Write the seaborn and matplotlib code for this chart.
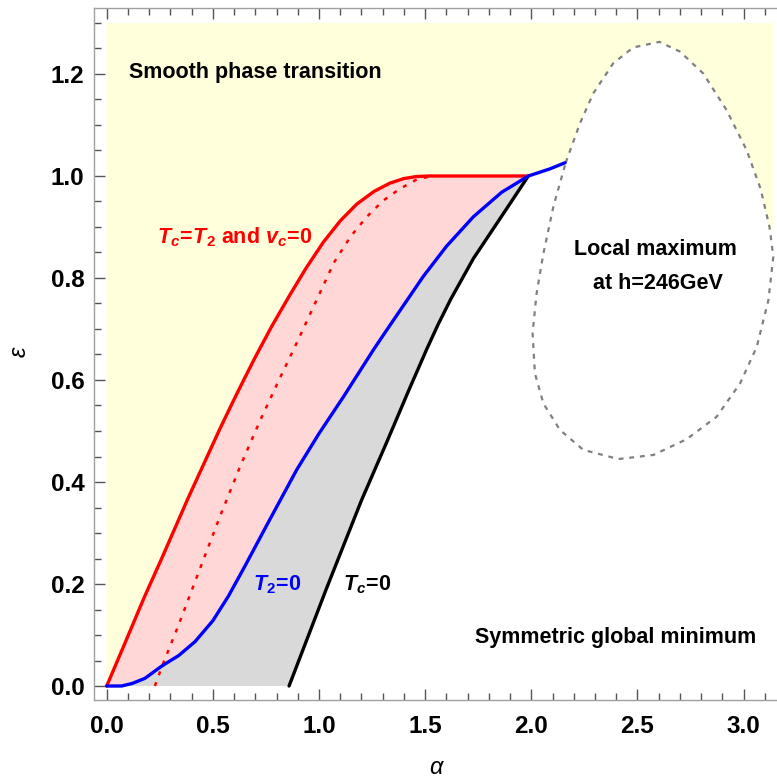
import numpy as np
import matplotlib
matplotlib.use("Agg")
import matplotlib.pyplot as plt
import seaborn as sns
from matplotlib.ticker import MultipleLocator

# ---- data ----
# red solid curve: T_c = T_2 and v_c = 0 (then flat at eps = 1)
red_alpha = [0.0, 0.090, 0.177, 0.259, 0.383, 0.534, 0.600, 0.643, 0.700, 0.777, 0.863, 0.940,
             1.020, 1.100, 1.178, 1.260, 1.334, 1.400, 1.460, 1.523, 1.986]
red_eps   = [0.0, 0.088, 0.174, 0.250, 0.368, 0.505, 0.562, 0.598, 0.645, 0.705, 0.767, 0.820,
             0.870, 0.912, 0.945, 0.970, 0.986, 0.995, 0.999, 1.000, 1.000]

# red dotted curve
dot_alpha = [0.227, 0.259, 0.337, 0.444, 0.534, 0.630, 0.722, 0.816, 0.900, 0.990, 1.070,
             1.150, 1.225, 1.300, 1.381, 1.460, 1.531]
dot_eps   = [0.000, 0.037, 0.118, 0.235, 0.333, 0.432, 0.520, 0.604, 0.677, 0.758, 0.830,
             0.882, 0.920, 0.951, 0.975, 0.993, 1.000]

# blue curve: T_2 = 0
blue_alpha = [0.0, 0.070, 0.120, 0.180, 0.259, 0.340, 0.416, 0.500, 0.573, 0.651, 0.760, 0.895,
              1.000, 1.115, 1.256, 1.319, 1.491, 1.600, 1.727, 1.860, 1.986, 2.088, 2.159]
blue_eps   = [0.0, 0.000, 0.005, 0.015, 0.039, 0.060, 0.087, 0.128, 0.176, 0.235, 0.320, 0.424,
              0.495, 0.567, 0.659, 0.698, 0.803, 0.862, 0.920, 0.968, 1.000, 1.014, 1.026]

# black curve: T_c = 0
black_alpha = [0.859, 1.036, 1.200, 1.319, 1.420, 1.507, 1.560, 1.620, 1.727, 1.884, 1.986]
black_eps   = [0.000, 0.192, 0.364, 0.478, 0.577, 0.660, 0.708, 0.758, 0.838, 0.936, 1.000]

# dashed closed curve: local maximum at h = 246 GeV (starts at blue end, clockwise)
ell_alpha = [2.162, 2.229, 2.292, 2.386, 2.480, 2.603, 2.700, 2.810, 2.920, 3.014, 3.080, 3.122,
             3.140, 3.117, 3.062, 2.983, 2.873, 2.732, 2.575, 2.410, 2.245, 2.135, 2.057, 2.017,
             2.006, 2.025, 2.057, 2.104, 2.162]
ell_eps   = [1.026, 1.103, 1.162, 1.221, 1.252, 1.263, 1.244, 1.201, 1.129, 1.051, 0.975, 0.900,
             0.842, 0.757, 0.665, 0.593, 0.528, 0.484, 0.453, 0.445, 0.463, 0.502, 0.554, 0.613,
             0.692, 0.770, 0.848, 0.940, 1.026]
ell_cut = 11  # index where the closed curve meets the right edge of the yellow region

alpha_max, eps_max = np.pi, 1.3

xticks = [0.0, 0.5, 1.0, 1.5, 2.0, 2.5, 3.0]
xtick_labels = ["0.0", "0.5", "1.0", "1.5", "2.0", "2.5", "3.0"]
yticks = [0.0, 0.2, 0.4, 0.6, 0.8, 1.0, 1.2]
ytick_labels = ["0.0", "0.2", "0.4", "0.6", "0.8", "1.0", "1.2"]

# ---- style ----
sns.set_theme(style="white")
plt.rcParams['font.family'] = ['Liberation Sans', 'DejaVu Sans']
plt.rcParams['mathtext.fontset'] = 'custom'
plt.rcParams['mathtext.rm'] = 'Liberation Sans:bold'
plt.rcParams['mathtext.it'] = 'Liberation Sans:italic:bold'
plt.rcParams['mathtext.bf'] = 'Liberation Sans:bold'

W, H = 777, 779
fig = plt.figure(figsize=(W / 100, H / 100), dpi=100)
ax = fig.add_axes([94 / W, 79 / H, 683 / W, 692 / H])

YELLOW = "#FFFFDC"
PINK = "#FFD7D7"
GRAY = "#D9D9D9"

# yellow region: above red / flat / blue, outside the dashed curve
blue_tail = [i for i, a in enumerate(blue_alpha) if a > red_alpha[-1]]
yx = list(red_alpha) + [blue_alpha[i] for i in blue_tail] + ell_alpha[:ell_cut + 1] + \
     [alpha_max, alpha_max, 0.0]
yy = list(red_eps) + [blue_eps[i] for i in blue_tail] + ell_eps[:ell_cut + 1] + \
     [ell_eps[ell_cut] - 0.01, eps_max, eps_max]
ax.fill(yx, yy, color=YELLOW, lw=0, zorder=1)

# pink region between red and blue
blue_main = [i for i, a in enumerate(blue_alpha) if a <= red_alpha[-1]]
px_ = list(red_alpha) + [blue_alpha[i] for i in blue_main[::-1]]
py_ = list(red_eps) + [blue_eps[i] for i in blue_main[::-1]]
ax.fill(px_, py_, color=PINK, lw=0, zorder=2)

# gray region between blue and black
gx = [blue_alpha[i] for i in blue_main] + black_alpha[::-1]
gy = [blue_eps[i] for i in blue_main] + black_eps[::-1]
ax.fill(gx, gy, color=GRAY, lw=0, zorder=2)

# curves
sns.lineplot(x=ell_alpha, y=ell_eps, sort=False, estimator=None, ax=ax, color="#808080",
             lw=1.6, linestyle=(0, (2.2, 2.6)), zorder=3)
sns.lineplot(x=dot_alpha, y=dot_eps, sort=False, estimator=None, ax=ax, color="red",
             lw=1.8, linestyle=(0, (1.6, 3.0)), zorder=4)
sns.lineplot(x=black_alpha, y=black_eps, sort=False, estimator=None, ax=ax, color="black",
             lw=2.4, zorder=5)
sns.lineplot(x=red_alpha, y=red_eps, sort=False, estimator=None, ax=ax, color="red",
             lw=2.4, zorder=6)
sns.lineplot(x=blue_alpha, y=blue_eps, sort=False, estimator=None, ax=ax, color="blue",
             lw=2.4, zorder=7)

# annotations
fs = 15.5
ax.text(0.701, 1.202, "Smooth phase transition", ha="center", va="center",
        fontsize=fs, fontweight="bold", color="black", zorder=8)
ax.text(0.604, 0.880, r"$T_c\!=\!T_2$ and $v_c\!=\!0$", ha="center", va="center",
        fontsize=fs, fontweight="bold", color="red", zorder=8)
ax.text(0.805, 0.198, r"$T_2\!=\!0$", ha="center", va="center",
        fontsize=fs, fontweight="bold", color="blue", zorder=8)
ax.text(1.229, 0.198, r"$T_c\!=\!0$", ha="center", va="center",
        fontsize=fs, fontweight="bold", color="black", zorder=8)
ax.text(2.583, 0.855, "Local maximum", ha="center", va="center",
        fontsize=fs, fontweight="bold", color="black", zorder=8)
ax.text(2.595, 0.790, "at h=246GeV", ha="center", va="center",
        fontsize=fs, fontweight="bold", color="black", zorder=8)
ax.text(2.399, 0.096, "Symmetric global minimum", ha="center", va="center",
        fontsize=fs, fontweight="bold", color="black", zorder=8)

# axes
ax.set_xlim((94 - 106.7) / 212.3, (777 - 106.7) / 212.3)
ax.set_ylim((686 - 700) / 510, (686 - 8) / 510)
ax.set_xticks(xticks)
ax.set_xticklabels(xtick_labels)
ax.set_yticks(yticks)
ax.set_yticklabels(ytick_labels)
ax.xaxis.set_minor_locator(MultipleLocator(0.1))
ax.yaxis.set_minor_locator(MultipleLocator(0.05))
for lab in ax.get_xticklabels() + ax.get_yticklabels():
    lab.set_fontweight("bold")
ax.tick_params(which="both", direction="in", top=True, right=False, bottom=True, left=True,
               color="#555555", width=1.0, labelcolor="black")
ax.tick_params(which="major", length=8)
ax.tick_params(which="minor", length=5)
ax.tick_params(axis="x", labelsize=17.5, pad=11)
ax.tick_params(axis="y", labelsize=17.5, pad=7)
for side in ["left", "bottom", "top"]:
    ax.spines[side].set_color("#a0a0a0")
    ax.spines[side].set_linewidth(1.0)
ax.spines["right"].set_visible(False)
ax.grid(False)

ax.set_xlabel("α", fontsize=17, fontstyle="italic", fontweight="normal", color="black")
ax.set_ylabel("ε", fontsize=17, fontstyle="italic", fontweight="normal", color="black")
ax.xaxis.set_label_coords(0.5, (700 - 767) / 692)
ax.xaxis.label.set_va("center")
ax.yaxis.set_label_coords((19 - 94) / 683, (700 - 352) / 692)
ax.yaxis.label.set_va("center")

fig.savefig("out.png", dpi=100)
